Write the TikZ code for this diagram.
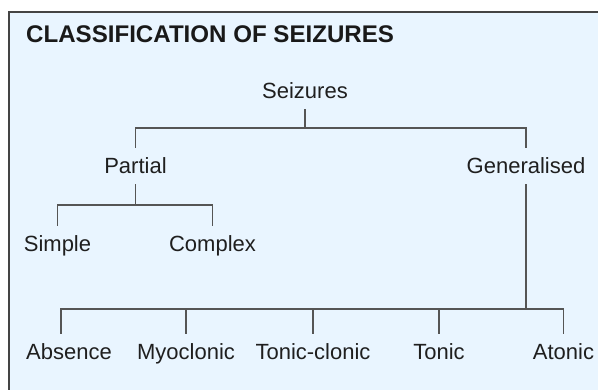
\documentclass[tikz,border=0pt]{standalone}
\usepackage{fontspec}
\setmainfont{Liberation Sans}
\definecolor{bgc}{HTML}{E9F5FF}
\definecolor{lnc}{HTML}{555555}
\definecolor{frc}{HTML}{444444}
\begin{document}
\begin{tikzpicture}[x=1pt,y=-1pt,
  lbl/.style={font=\fontsize{22}{22}\selectfont, text=black!88, inner xsep=0pt, inner ysep=10pt, text height=16pt, text depth=0pt, anchor=base},
  conn/.style={draw=lnc, line width=1.6pt}]
\useasboundingbox (0,0) rectangle (598,390);
\fill[bgc] (9,12) rectangle (598,390);
\draw[line width=1.6pt, draw=frc] (9,390) -- (9,12) -- (598,12);
\node[anchor=base west, inner sep=0pt, font=\bfseries\fontsize{24.1}{24.1}\selectfont, text=black!90] (title) at (26,43) {CLASSIFICATION OF SEIZURES};
\node[lbl] (seiz) at (305,99) {Seizures};
\node[lbl] (part) at (135.5,174) {Partial};
\node[lbl] (gen) at (526,174) {Generalised};
\node[lbl] (simp) at (57.5,252) {Simple};
\node[lbl] (comp) at (212.5,252) {Complex};
\node[lbl] (abs) at (69,360) {Absence};
\node[lbl] (myo) at (186,360) {Myoclonic};
\node[lbl] (tcl) at (313,360) {Tonic-clonic};
\node[lbl] (ton) at (439,360) {Tonic};
\node[lbl] (aton) at (563.5,360) {Atonic};
\coordinate (b1) at (0,128);
\coordinate (b2) at (0,205);
\coordinate (b3) at (0,309);
\coordinate (absd) at ([xshift=-8pt]abs.north);
\draw[conn] (seiz.south) -- (seiz.south |- b1);
\draw[conn] (part.north) -- (part.north |- b1) -- (gen.north |- b1) -- (gen.north);
\draw[conn] (part.south) -- (part.south |- b2);
\draw[conn] (simp.north) -- (simp.north |- b2) -- (comp.north |- b2) -- (comp.north);
\draw[conn] (gen.south) -- (gen.south |- b3);
\draw[conn] (absd) -- (absd |- b3) -- (aton.north |- b3) -- (aton.north);
\draw[conn] (myo.north) -- (myo.north |- b3);
\draw[conn] (tcl.north) -- (tcl.north |- b3);
\draw[conn] (ton.north) -- (ton.north |- b3);
\end{tikzpicture}
\end{document}
